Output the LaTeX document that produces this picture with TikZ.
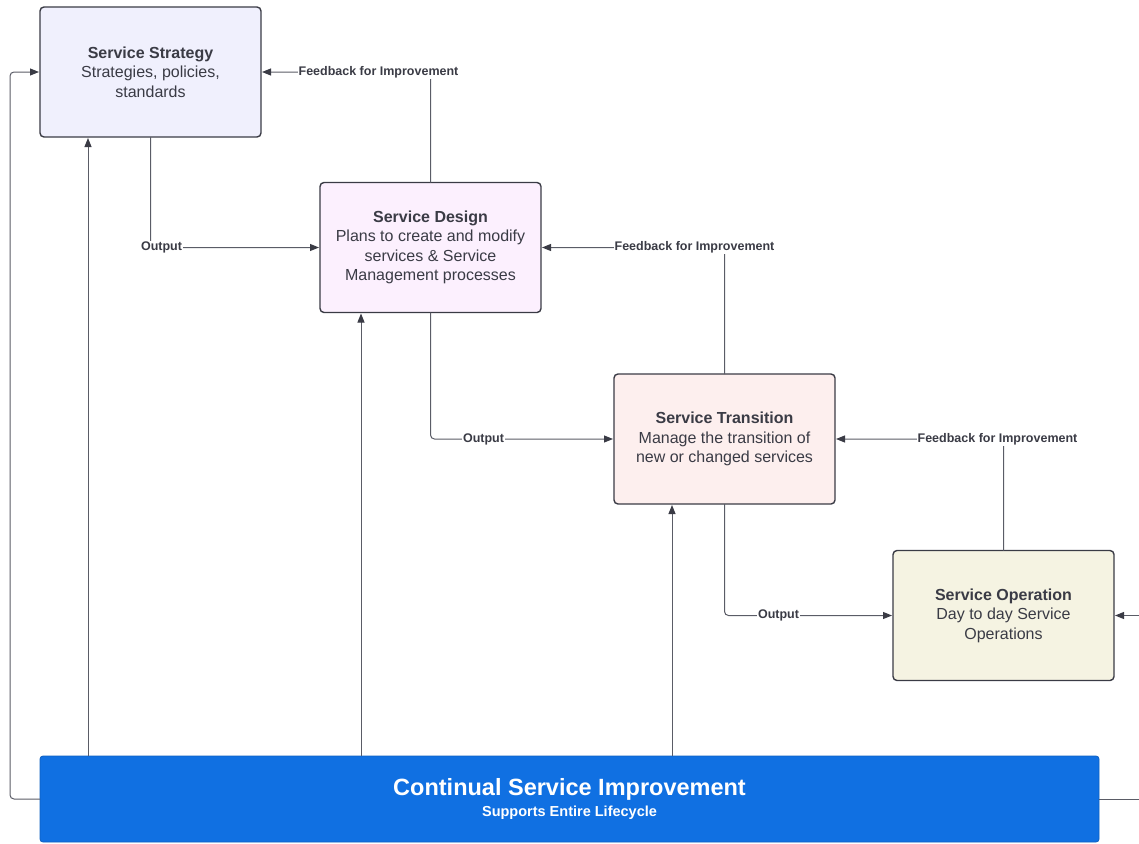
\documentclass[tikz,border=0pt]{standalone}
\usepackage{fontspec}
\setmainfont{Liberation Sans}
\usetikzlibrary{arrows.meta,calc}

\definecolor{inkdark}{HTML}{3A3B45}
\definecolor{linegray}{HTML}{5A5C66}
\definecolor{stratfill}{HTML}{F0F0FD}
\definecolor{designfill}{HTML}{FCF0FE}
\definecolor{transfill}{HTML}{FDEFEE}
\definecolor{opfill}{HTML}{F5F3E2}
\definecolor{csiblue}{HTML}{1070E2}

\tikzset{
  stage/.style={draw=inkdark, line width=1.4pt, rounded corners=4pt,
    minimum width=221pt, minimum height=130pt, inner sep=0pt, outer sep=0pt,
    align=center, text=inkdark, font=\fontsize{16}{19.5}\selectfont},
  csibox/.style={draw=csiblue!85!black, line width=0.8pt, fill=csiblue, rounded corners=3pt,
    minimum width=1059pt, minimum height=86pt, inner sep=0pt, outer sep=0pt,
    align=center, text=white},
  conn/.style={draw=linegray, line width=1pt, rounded corners=4pt},
  arr/.style={conn, -{Triangle[length=9pt,width=7pt,color=inkdark]}, shorten >=1pt},
  lbl/.style={fill=white, inner sep=1pt, text=inkdark,
    font=\bfseries\fontsize{12.5}{14}\selectfont},
}

\begin{document}
\begin{tikzpicture}[x=1pt,y=-1pt]
  \useasboundingbox (0,0) rectangle (1139,843);

  % lifecycle stages
  \node[stage, fill=stratfill] (strat) at (150.5,72)
    {\textbf{Service Strategy}\\Strategies, policies,\\standards};
  \node[stage, fill=designfill] (design) at (430.5,247.5)
    {\textbf{Service Design}\\Plans to create and modify\\services \& Service\\Management processes};
  \node[stage, fill=transfill] (trans) at (724.5,439)
    {\textbf{Service Transition}\\Manage the transition of\\new or changed services};
  \node[stage, fill=opfill] (oper) at (1003.5,615.5)
    {\textbf{Service Operation}\\Day to day Service\\Operations};

  % improvement band
  \node[csibox] (csi) at (569.5,799)
    {{\bfseries\fontsize{23.5}{27}\selectfont Continual Service Improvement}\\[5pt]
     {\bfseries\fontsize{14.5}{17}\selectfont Supports Entire Lifecycle}};

  % loop back into the strategy
  \draw[arr] (csi.west) -- ++(-30,0) |- (strat.west);

  % loop leaving on the right
  \coordinate (outR) at (1139,799);
  \coordinate (inR) at (1139,615.5);
  \draw[conn] (csi.east) -- (outR);
  \draw[arr] (inR) -- (oper.east);

  % improvement feeding each stage
  \path (strat.south west) ++(48,0) coordinate (upS);
  \path (design.south west) ++(41,0) coordinate (upD);
  \path (trans.south west) ++(58,0) coordinate (upT);
  \draw[arr] (csi.north -| upS) -- (upS);
  \draw[arr] (csi.north -| upD) -- (upD);
  \draw[arr] (csi.north -| upT) -- (upT);

  % outputs passed down the chain
  \draw[arr] (strat.south) |- (design.west);
  \node[lbl] (o1) at ($(strat.south |- design.west)+(11,0)$) {Output};
  \draw[arr] (design.south) |- (trans.west);
  \node[lbl] (o2) at ($(design.south |- trans.west)+(53,0)$) {Output};
  \draw[arr] (trans.south) |- (oper.west);
  \node[lbl] (o3) at ($(trans.south |- oper.west)+(54,0)$) {Output};

  % feedback passed back up the chain
  \draw[arr] (design.north) |- (strat.east);
  \node[lbl] (f1) at ($(design.north |- strat.east)+(-52,0)$) {Feedback for Improvement};
  \draw[arr] (trans.north) |- (design.east);
  \node[lbl] (f2) at ($(trans.north |- design.east)+(-30,0)$) {Feedback for Improvement};
  \draw[arr] (oper.north) |- (trans.east);
  \node[lbl] (f3) at ($(oper.north |- trans.east)+(-6,0)$) {Feedback for Improvement};
\end{tikzpicture}
\end{document}
